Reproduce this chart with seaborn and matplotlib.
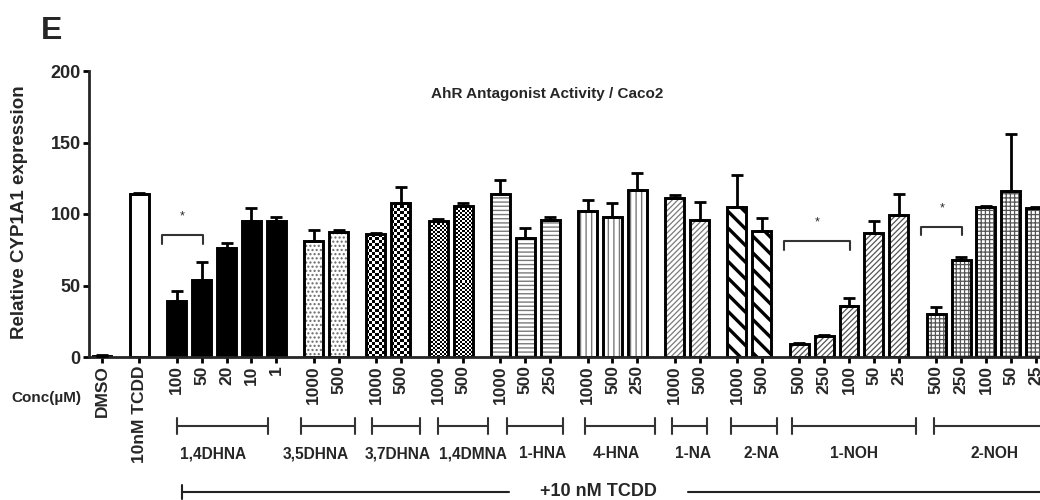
import numpy as np
import pandas as pd
import matplotlib
matplotlib.use("Agg")
import matplotlib.pyplot as plt
from matplotlib.patches import Rectangle
import seaborn as sns

# Treatment groups in plotting order
groups = ["DMSO", "10nM TCDD", "1,4DHNA", "3,5DHNA", "3,7DHNA", "1,4DMNA",
          "1-HNA", "4-HNA", "1-NA", "2-NA", "1-NOH", "2-NOH"]

# Concentration (µM) tick labels for each group
conc_labels = [
    ["DMSO"],
    ["10nM TCDD"],
    ["100", "50", "20", "10", "1"],
    ["1000", "500"],
    ["1000", "500"],
    ["1000", "500"],
    ["1000", "500", "250"],
    ["1000", "500", "250"],
    ["1000", "500"],
    ["1000", "500"],
    ["500", "250", "100", "50", "25"],
    ["500", "250", "100", "50", "25"],
]

# Mean relative CYP1A1 expression
expr_mean = [
    [0.8],
    [114],
    [39, 54, 76, 95, 95],
    [81, 87.5],
    [86, 108],
    [95, 105.5],
    [114, 83, 96],
    [102, 98, 117],
    [111.5, 96],
    [105, 88],
    [9, 15, 36, 87, 99],
    [30, 68, 105, 116, 104],
]

# Upper error bar (SEM)
expr_err = [
    [0.3],
    [1],
    [7, 12.5, 4, 9, 3],
    [7.5, 1],
    [0.8, 11],
    [1.5, 2.5],
    [9.5, 7.5, 2],
    [8, 10, 12],
    [1.5, 12.5],
    [22, 9],
    [0.7, 0.6, 5, 8, 15],
    [5, 2, 0.7, 40, 0.8],
]

# Significant dose comparisons (group, first conc, last conc, bracket height)
sig_groups = ["1,4DHNA", "1-NOH", "2-NOH"]
sig_from = ["100", "500", "500"]
sig_to = ["50", "100", "250"]
sig_height = [85, 81, 91]

# Fill style of each group's bars
fill_styles = {
    "DMSO": dict(kind="plain"),
    "10nM TCDD": dict(kind="plain"),
    "1,4DHNA": dict(kind="solid"),
    "3,5DHNA": dict(kind="hatch", hatch="....", color="#6a6a6a", lw=1.0),
    "3,7DHNA": dict(kind="checker", cell=3.0),
    "1,4DMNA": dict(kind="checker", cell=2.0),
    "1-HNA": dict(kind="hatch", hatch="----", color="#7a7a7a", lw=1.0),
    "4-HNA": dict(kind="hatch", hatch="|||", color="#7a7a7a", lw=1.0),
    "1-NA": dict(kind="hatch", hatch="//////", color="#7a7a7a", lw=0.9),
    "2-NA": dict(kind="hatch", hatch="\\\\", color="black", lw=2.4),
    "1-NOH": dict(kind="hatch", hatch="//////", color="#555555", lw=0.9),
    "2-NOH": dict(kind="hatch", hatch="++++", color="#555555", lw=0.9),
}

# Compound bracket layout (slot offsets: left end from first bar, right end
# from last bar, label shift from the group's centre)
bracket_layout = {
    "1,4DHNA": (0.0, -0.35, -0.54),
    "3,5DHNA": (-0.5, 0.66, -0.43),
    "3,7DHNA": (-0.16, 0.77, 0.38),
    "1,4DMNA": (-0.02, 1.0, 0.9),
    "1-HNA": (0.28, 0.5, 0.7),
    "4-HNA": (-0.1, 0.7, 0.14),
    "1-NA": (-0.1, 0.3, 0.23),
    "2-NA": (-0.24, 0.6, 0.5),
    "1-NOH": (-0.3, 0.7, 0.2),
    "2-NOH": (-0.1, 0.7, 0.34),
}

sns.set_style("ticks")
plt.rcParams["font.family"] = ["Liberation Sans", "DejaVu Sans"]
plt.rcParams["font.weight"] = "bold"

# Long-form table; groups are separated by an extra half slot
rows = []
for gi, (g, labs, ms, es) in enumerate(zip(groups, conc_labels, expr_mean, expr_err)):
    for lab, m, e in zip(labs, ms, es):
        rows.append(dict(group=g, conc=lab, mean=m, err=e, gi=gi))
df = pd.DataFrame(rows)
df["pos"] = np.arange(len(df)) + 0.5 * df["gi"]

W, H = 1040, 500
fig = plt.figure(figsize=(W / 100, H / 100), dpi=100)
ax_left_px, ax_bottom_px, ax_top_px = 89, 357, 71
ax = fig.add_axes([ax_left_px / W, (H - ax_bottom_px) / H,
                   1 - ax_left_px / W, (ax_bottom_px - ax_top_px) / H])

slot_px = 24.9
x_min = -(102 - ax_left_px) / slot_px
x_max = x_min + (W - ax_left_px) / slot_px
ax.set_xlim(x_min, x_max)
ax.set_ylim(0, 200)

bar_width = 0.76
sns.barplot(data=df, x="pos", y="mean", native_scale=True, width=bar_width,
            errorbar=None, color="white", saturation=1, edgecolor="black",
            linewidth=0, ax=ax, zorder=2)
ax.set_xlim(x_min, x_max)
ax.set_ylim(0, 200)

px_per_y = (ax_bottom_px - ax_top_px) / 200.0
bars = list(ax.patches)
for patch, (_, row) in zip(bars, df.sort_values("pos").iterrows()):
    st = fill_styles[row["group"]]
    x0, w, h = patch.get_x(), patch.get_width(), patch.get_height()
    if st["kind"] == "solid":
        patch.set_facecolor("black")
    elif st["kind"] == "hatch":
        with plt.rc_context({"hatch.linewidth": st["lw"]}):
            hp = Rectangle((x0, 0), w, h, fill=False, hatch=st["hatch"],
                           edgecolor=st["color"], linewidth=0, zorder=2.1)
        if hasattr(hp, "set_hatch_linewidth"):
            hp.set_hatch_linewidth(st["lw"])
        ax.add_patch(hp)
    elif st["kind"] == "checker":
        nx = max(1, int(round(w * slot_px / st["cell"])))
        ny = max(1, int(round(h * px_per_y / st["cell"])))
        board = (np.add.outer(np.arange(ny), np.arange(nx)) % 2).astype(float)
        im = ax.imshow(board, extent=(x0, x0 + w, 0, h), origin="lower",
                       cmap="gray", vmin=0, vmax=1, aspect="auto",
                       interpolation="nearest", zorder=2.1)
        im.set_clip_path(patch)
    # outline on top of the fill pattern
    ax.add_patch(Rectangle((x0, 0), w, h, fill=False, edgecolor="black",
                           linewidth=2.1, zorder=2.2))

ax.errorbar(df["pos"], df["mean"], yerr=[np.zeros(len(df)), df["err"]],
            fmt="none", ecolor="black", elinewidth=2.0, capsize=4,
            capthick=2.0, zorder=3)

# Significance brackets
for g, a, b, hgt in zip(sig_groups, sig_from, sig_to, sig_height):
    sub = df[df["group"] == g]
    pa = sub.loc[sub["conc"] == a, "pos"].iloc[0]
    pb = sub.loc[sub["conc"] == b, "pos"].iloc[0]
    left, right = pa - 0.6, pb + 0.05
    ax.plot([left, left, right, right], [hgt - 6, hgt, hgt, hgt - 6],
            color="#333333", lw=1.5, zorder=3)
    ax.text((left + right) / 2, hgt + 13, "*", ha="center", va="center",
            fontsize=9, fontweight="normal")

ax.set_xlim(x_min, x_max)
ax.set_ylim(0, 200)

# Axes styling
for side in ["top", "right"]:
    ax.spines[side].set_visible(False)
for side in ["left", "bottom"]:
    ax.spines[side].set_linewidth(2.0)
ax.set_yticks([0, 50, 100, 150, 200])
ax.set_yticklabels(["0", "50", "100", "150", "200"], fontsize=13,
                   fontweight="bold")
ax.set_xticks(df["pos"])
ax.set_xticklabels(df["conc"], rotation=90, fontsize=12.5, fontweight="bold",
                   va="top", ha="center")
ax.tick_params(axis="both", direction="out", length=4, width=2, pad=2,
               color="black")
ax.set_xlabel("")
ax.set_ylabel("")

# Compound brackets under the dose labels
tr = ax.get_xaxis_transform()
span_px = ax_bottom_px - ax_top_px
yb = -(426 - ax_bottom_px) / span_px
cap = 8 / span_px
ylab = -(454 - ax_bottom_px) / span_px
for g in groups:
    sub = df[df["group"] == g]
    if len(sub) < 2:
        continue
    dl, dr, dt = bracket_layout[g]
    left, right = sub["pos"].min() + dl, sub["pos"].max() + dr
    ax.plot([left, right], [yb, yb], transform=tr, clip_on=False,
            color="#333333", lw=1.5)
    for xe in (left, right):
        ax.plot([xe, xe], [yb - cap, yb + cap], transform=tr, clip_on=False,
                color="#333333", lw=1.5)
    ax.text(sub["pos"].mean() + dt, ylab, g, transform=tr, ha="center",
            va="center", fontsize=11.2, fontweight="bold")

# "+10 nM TCDD" line covering all co-treated samples
yl = -(491.5 - ax_bottom_px) / span_px
treated = df[df["gi"] >= 2]
l0 = treated["pos"].min() + 0.2
tc = (l0 + x_max) / 2 - 0.5
gap = 3.6
ax.plot([l0, tc - gap], [yl, yl], transform=tr, clip_on=False,
        color="#222222", lw=1.5)
ax.plot([tc + gap, x_max + 1], [yl, yl], transform=tr, clip_on=False,
        color="#222222", lw=1.5)
ax.plot([l0, l0], [yl - 7 / span_px, yl + 7 / span_px], transform=tr,
        clip_on=False, color="#222222", lw=1.5)
ax.text(tc, yl, "+10 nM TCDD", transform=tr, ha="center", va="center",
        fontsize=13, fontweight="bold")

# Figure-level texts
fig.text(20 / W, 1 - 212.5 / H, "Relative CYP1A1 expression", rotation=90,
         ha="center", va="center", fontsize=13.5, fontweight="bold")
fig.text(547 / W, 1 - 94 / H, "AhR Antagonist Activity / Caco2",
         ha="center", va="center", fontsize=11, fontweight="bold")
fig.text(46 / W, 1 - 398 / H, "Conc(µM)", ha="center", va="center",
         fontsize=11, fontweight="bold")
fig.text(41 / W, 1 - 31 / H, "E", ha="left", va="center", fontsize=23,
         fontweight="bold")

fig.savefig("out.png", dpi=100)
